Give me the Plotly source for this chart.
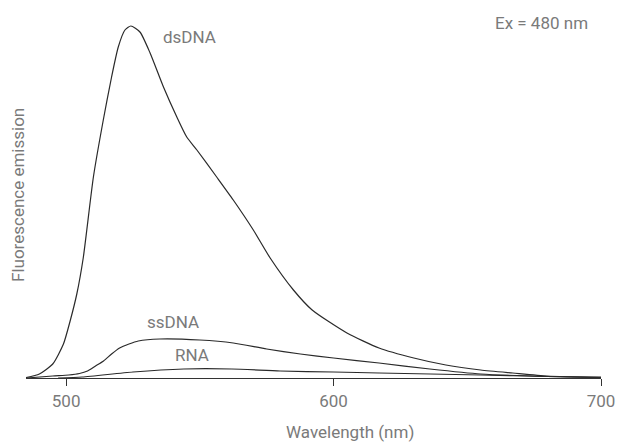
import plotly.graph_objects as go

# Emission spectra (relative units, baseline = 0)
ds_wl = [485, 490, 495, 499, 501.5, 504, 506.4, 510.2, 513.9, 517, 519.5, 522, 524.2, 527.6,
         531.4, 536.4, 541.4, 545.1, 548.9, 556.3, 562.5, 570, 576.3, 585, 592, 605, 617, 630,
         642, 655, 667, 680, 700]
ds_em = [0.5, 4, 14, 34, 57, 84, 120, 201, 258, 301, 331, 348, 352, 346,
         325, 291, 261, 241, 228, 201, 178, 148, 120, 88, 68, 45, 30, 20,
         13, 8, 5, 2, 1]

ss_wl = [485, 495, 501, 505, 508, 511, 514, 517, 520, 523.5, 527, 535, 550, 562.5, 575, 587.6,
         600, 617, 636, 655, 680, 700]
ss_em = [0, 2, 3, 4.5, 7, 12, 17, 24, 30, 34, 37, 39, 38, 35, 29, 24,
         20, 15, 9, 4, 1.5, 0.5]

rna_wl = [497, 506, 525, 544, 562, 580, 600, 617, 655, 680, 700]
rna_em = [0, 1, 6, 9, 9, 7, 6, 5, 3, 1.5, 0.5]

x_ticks = [500, 600, 700]

FONT = "Roboto, 'Open Sans', sans-serif"
GREY = "#7a7a7a"
LINE = "#2a2a2a"
FS = 17

fig = go.Figure()
for wl, em in [(ds_wl, ds_em), (ss_wl, ss_em), (rna_wl, rna_em)]:
    fig.add_trace(go.Scatter(x=wl, y=em, mode="lines",
                             line=dict(color=LINE, width=1.2, shape="spline", smoothing=0.6),
                             hoverinfo="skip", showlegend=False))

labels = [("dsDNA", 546, 341), ("ssDNA", 540, 56), ("RNA", 547, 23)]
for text, x, y in labels:
    fig.add_annotation(x=x, y=y, text=text, showarrow=False,
                       font=dict(family=FONT, size=FS, color=GREY))

plot_w = 619 - 26 - 18
plot_h = 442 - 20 - 64

fig.add_annotation(x=(541 - 26) / plot_w, y=(378 - 23) / plot_h, xref="paper", yref="paper",
                   text="Ex = 480 nm", showarrow=False, xanchor="center", yanchor="middle",
                   font=dict(family=FONT, size=FS, color=GREY))

fig.add_annotation(x=(18 - 26) / plot_w, y=(378 - 195) / plot_h, xref="paper", yref="paper",
                   text="Fluorescence emission", textangle=-90, showarrow=False,
                   xanchor="center", yanchor="middle",
                   font=dict(family=FONT, size=FS, color=GREY))

fig.add_annotation(x=(350 - 26) / plot_w, y=(378 - 432) / plot_h, xref="paper", yref="paper",
                   text="Wavelength (nm)", showarrow=False, xanchor="center", yanchor="middle",
                   font=dict(family=FONT, size=FS, color=GREY))

fig.update_layout(
    width=619, height=442,
    margin=dict(l=26, r=18, t=20, b=64),
    paper_bgcolor="white", plot_bgcolor="white",
    font=dict(family=FONT, size=FS, color=GREY),
    xaxis=dict(range=[485, 700], tickvals=x_ticks, ticks="outside", ticklen=7,
               tickcolor="#333", showline=True, linecolor="#333", linewidth=1.2,
               showgrid=False, zeroline=False, automargin=False,
               tickfont=dict(family=FONT, size=FS, color=GREY)),
    yaxis=dict(range=[0, 358], showticklabels=False, ticks="", showgrid=False,
               zeroline=False, showline=False, automargin=False),
)

fig.write_html("out.html")
